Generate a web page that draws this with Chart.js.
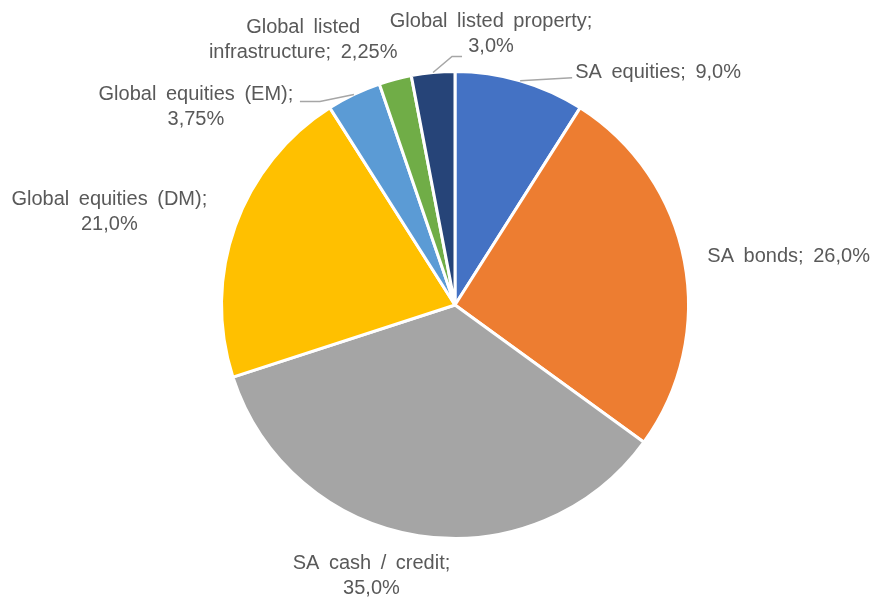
<!DOCTYPE html>
<html>
<head>
<meta charset="utf-8">
<script src="https://cdn.jsdelivr.net/npm/chart.js@4/dist/chart.umd.min.js"></script>
<style>
  html, body { margin: 0; padding: 0; background: #ffffff; }
  #wrap { width: 874px; height: 597px; }
</style>
</head>
<body>
<div id="wrap"><canvas id="chart" width="874" height="597"></canvas></div>
<script>
// Asset allocation (percent of portfolio)
const categories = [
  'SA equities',
  'SA bonds',
  'SA cash / credit',
  'Global equities (DM)',
  'Global equities (EM)',
  'Global listed infrastructure',
  'Global listed property'
];
const weights = [9.0, 26.0, 35.0, 21.0, 3.75, 2.25, 3.0];
const sliceColors = ['#4472C4', '#ED7D31', '#A5A5A5', '#FFC000', '#5B9BD5', '#70AD47', '#264478'];

// Label placement relative to each slice's outer-edge midpoint:
// dx, dy -> label anchor, align, number of words on the first line,
// and optional leader elbows relative to the label anchor.
const labelLayout = [
  { dx: 55,   dy: -8,  align: 'left',   firstWords: 99, leader: [[-3, 5]] },
  { dx: 23,   dy: -5,  align: 'left',   firstWords: 99, leader: null },
  { dx: -47,  dy: 40,  align: 'center', firstWords: 4,  leader: null },
  { dx: -126, dy: -14, align: 'center', firstWords: 3,  leader: null },
  { dx: -158, dy: 12,  align: 'center', firstWords: 3,  leader: [[124, -5], [104, -5]] },
  { dx: -92,  dy: -39, align: 'center', firstWords: 2,  leader: null },
  { dx: 58,   dy: -39, align: 'center', firstWords: 3,  leader: [[-39, 23], [-29, 23]] }
];

function formatPct(v) {
  const dec = Math.abs(v * 10 - Math.round(v * 10)) > 1e-9 ? 2 : 1;
  return v.toFixed(dec).replace('.', ',') + '%';
}

const outsideLabels = {
  id: 'outsideLabels',
  afterDatasetsDraw(chart) {
    const ctx = chart.ctx;
    const meta = chart.getDatasetMeta(0);
    const lineH = 25;
    ctx.save();
    ctx.font = '20px "Liberation Sans", Arial, sans-serif';
    if ('wordSpacing' in ctx) ctx.wordSpacing = '4px';
    ctx.fillStyle = '#595959';
    ctx.textBaseline = 'middle';
    meta.data.forEach((arc, i) => {
      const lay = labelLayout[i];
      const mid = (arc.startAngle + arc.endAngle) / 2;
      const ex = arc.x + Math.cos(mid) * arc.outerRadius;
      const ey = arc.y + Math.sin(mid) * arc.outerRadius;
      const ax = ex + lay.dx;
      const ay = ey + lay.dy;

      const words = (categories[i] + '; ' + formatPct(weights[i])).split(' ');
      const lines = [words.slice(0, lay.firstWords).join(' ')];
      if (words.length > lay.firstWords) lines.push(words.slice(lay.firstWords).join(' '));

      if (lay.leader) {
        ctx.beginPath();
        ctx.strokeStyle = '#A6A6A6';
        ctx.lineWidth = 1.5;
        ctx.moveTo(ex, ey);
        lay.leader.forEach(p => ctx.lineTo(ax + p[0], ay + p[1]));
        ctx.stroke();
      }

      ctx.textAlign = lay.align;
      const top = ay - (lines.length - 1) * lineH / 2;
      lines.forEach((ln, k) => ctx.fillText(ln, ax, top + k * lineH));
    });
    ctx.restore();
  }
};

new Chart(document.getElementById('chart'), {
  type: 'pie',
  data: {
    labels: categories,
    datasets: [{
      data: weights,
      backgroundColor: sliceColors,
      borderColor: '#ffffff',
      borderWidth: 3
    }]
  },
  options: {
    responsive: false,
    devicePixelRatio: 1,
    animation: false,
    layout: { padding: { left: 36, right: 0, top: 70, bottom: 57 } },
    plugins: {
      legend: { display: false },
      tooltip: { enabled: false }
    }
  },
  plugins: [outsideLabels]
});
</script>
</body>
</html>
